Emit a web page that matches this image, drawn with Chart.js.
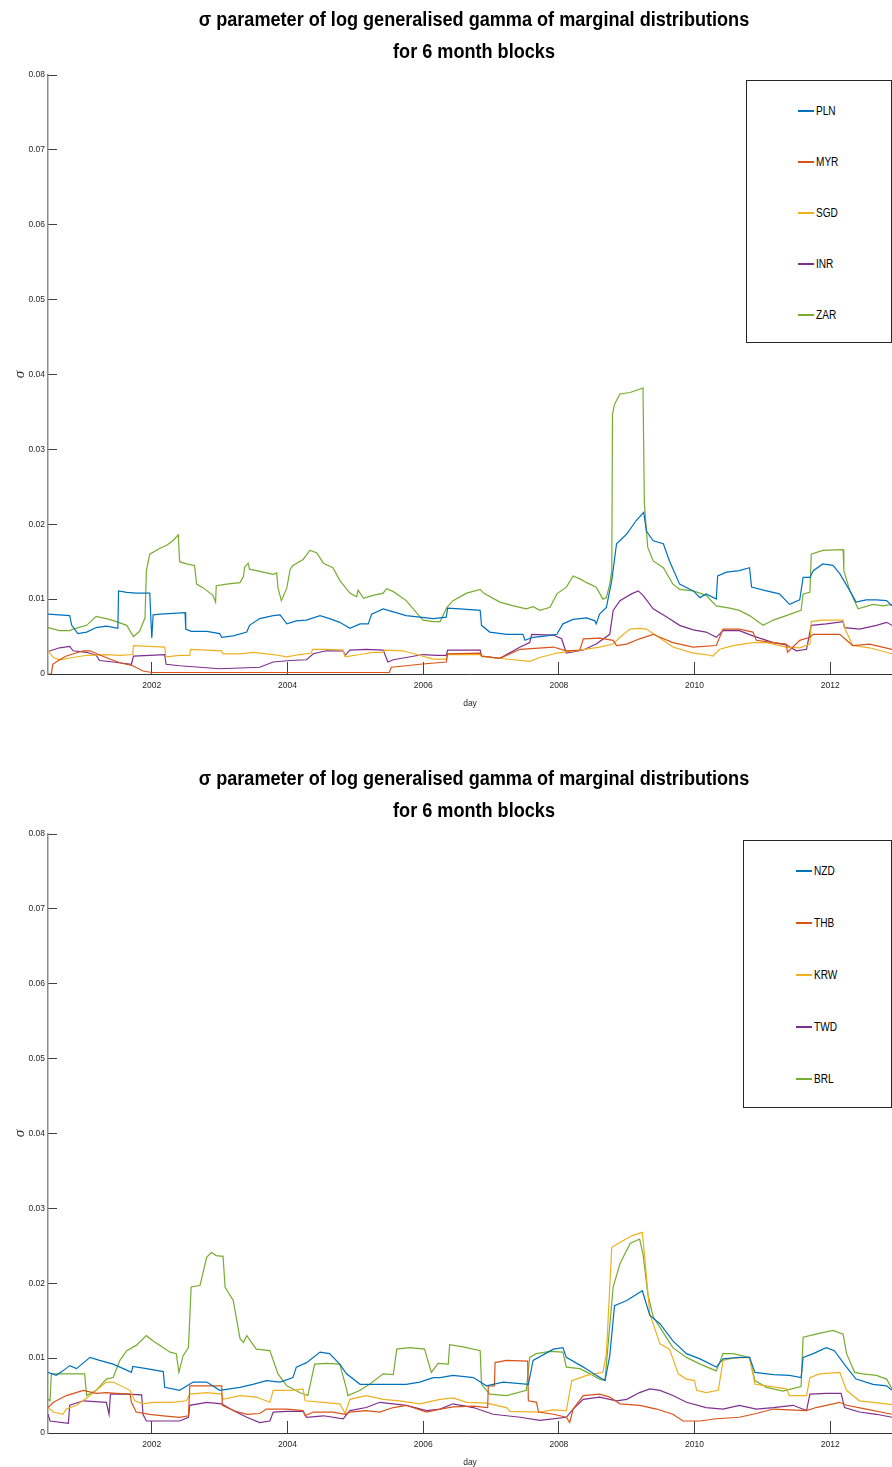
<!DOCTYPE html>
<html><head><meta charset="utf-8">
<script src="https://cdn.jsdelivr.net/npm/chart.js@4/dist/chart.umd.min.js"></script>
<style>
html,body{margin:0;padding:0;background:#fff;width:892px;height:1467px;overflow:hidden;}
.wrap{position:absolute;left:0;width:892px;height:720px;}
canvas{position:absolute;left:0;top:0;}
.legend{position:absolute;border:1px solid #262626;background:#fff;box-sizing:border-box;font:12px "Liberation Sans",Arial,sans-serif;color:#000;}
.legend .it{position:absolute;height:14px;line-height:14px;white-space:nowrap;}
.legend .ln{position:absolute;left:0;top:6px;width:16px;height:2px;}
.legend .tx{position:absolute;left:18px;top:0;display:inline-block;transform:scaleX(0.84);transform-origin:0 50%;}
</style></head>
<body>
<div class="wrap" id="w1" style="top:0"><canvas id="c1" width="892" height="720"></canvas></div>
<div class="wrap" id="w2" style="top:759px"><canvas id="c2" width="892" height="720"></canvas></div>
<script>
// ---- data (x: decimal year, y: sigma) ----
const TITLE = ['σ parameter of log generalised gamma of marginal distributions','for 6 month blocks'];
const X_TICKS = [2002,2004,2006,2008,2010,2012];
const Y_TICKS = [0,0.01,0.02,0.03,0.04,0.05,0.06,0.07,0.08];
const X_MIN = 2000.47, X_MAX = 2012.91;
const COLORS = ['#0072BD','#D95319','#EDB120','#7E2F8E','#77AC30'];
const LABELS1 = ['PLN','MYR','SGD','INR','ZAR'];
const LABELS2 = ['NZD','THB','KRW','TWD','BRL'];

const PLN = [[2000.47,.0080],[2000.79,.0078],[2000.82,.0065],[2000.91,.0054],[2001.04,.0056],[2001.18,.0062],[2001.33,.0064],[2001.50,.0061],[2001.51,.0111],[2001.63,.0109],[2001.77,.0108],[2001.97,.0108],[2001.985,.0076],[2002.00,.0048],[2002.02,.0079],[2002.12,.0080],[2002.31,.0081],[2002.49,.0082],[2002.50,.0060],[2002.58,.0057],[2002.81,.0057],[2003.00,.0054],[2003.03,.0049],[2003.20,.0051],[2003.40,.0056],[2003.44,.0065],[2003.59,.0074],[2003.79,.0078],[2003.89,.0079],[2003.99,.0067],[2004.13,.0071],[2004.28,.0072],[2004.48,.0078],[2004.62,.0074],[2004.77,.0069],[2004.92,.0061],[2005.07,.0067],[2005.19,.0067],[2005.24,.0080],[2005.41,.0087],[2005.56,.0083],[2005.75,.0078],[2005.95,.0076],[2006.15,.0074],[2006.34,.0076],[2006.36,.0088],[2006.54,.0087],[2006.84,.0085],[2006.86,.0065],[2006.98,.0056],[2007.23,.0053],[2007.47,.0053],[2007.50,.0045],[2007.62,.0049],[2007.82,.0051],[2007.97,.0053],[2008.06,.0067],[2008.21,.0073],[2008.41,.0075],[2008.53,.0071],[2008.55,.0067],[2008.60,.0080],[2008.70,.0089],[2008.78,.0125],[2008.85,.0174],[2009.00,.0187],[2009.14,.0205],[2009.25,.0216],[2009.29,.0191],[2009.39,.0178],[2009.54,.0174],[2009.63,.0151],[2009.78,.0120],[2009.98,.0111],[2010.08,.0102],[2010.17,.0107],[2010.32,.0100],[2010.34,.0131],[2010.47,.0136],[2010.66,.0138],[2010.81,.0142],[2010.84,.0116],[2011.06,.0111],[2011.25,.0107],[2011.40,.0093],[2011.55,.0099],[2011.60,.0129],[2011.70,.0129],[2011.75,.0138],[2011.89,.0147],[2012.04,.0145],[2012.14,.0134],[2012.29,.0111],[2012.38,.0096],[2012.53,.0099],[2012.68,.0099],[2012.83,.0098],[2012.91,.0091]];
const MYR = [[2000.47,0],[2000.52,0],[2000.54,.0013],[2000.64,.0019],[2000.74,.0024],[2000.99,.0031],[2001.09,.0031],[2001.19,.0027],[2001.38,.0020],[2001.53,.0015],[2001.72,.0011],[2001.87,.0004],[2002.00,.0002],[2005.50,.0002],[2005.53,.0009],[2005.75,.0011],[2005.95,.0013],[2006.34,.0016],[2006.36,.0027],[2006.84,.0028],[2006.86,.0024],[2007.13,.0021],[2007.43,.0033],[2007.92,.0036],[2008.11,.0031],[2008.31,.0032],[2008.36,.0047],[2008.60,.0048],[2008.80,.0045],[2008.85,.0038],[2009.00,.0040],[2009.19,.0047],[2009.39,.0053],[2009.49,.0049],[2009.68,.0042],[2009.98,.0036],[2010.32,.0038],[2010.42,.0060],[2010.66,.0060],[2010.86,.0056],[2010.91,.0045],[2011.16,.0042],[2011.35,.0040],[2011.37,.0029],[2011.55,.0045],[2011.70,.0049],[2011.75,.0053],[2012.14,.0053],[2012.33,.0038],[2012.58,.0040],[2012.91,.0033]];
const SGD = [[2000.47,.0031],[2000.55,.0022],[2000.64,.0019],[2000.84,.0022],[2001.04,.0025],[2001.33,.0026],[2001.53,.0025],[2001.72,.0026],[2001.73,.0038],[2001.97,.0037],[2002.19,.0036],[2002.21,.0023],[2002.41,.0025],[2002.56,.0025],[2002.57,.0033],[2002.81,.0032],[2003.03,.0031],[2003.05,.0027],[2003.30,.0027],[2003.49,.0029],[2003.79,.0026],[2003.99,.0023],[2004.18,.0026],[2004.35,.0028],[2004.37,.0033],[2004.57,.0033],[2004.82,.0032],[2004.85,.0023],[2005.07,.0026],[2005.26,.0029],[2005.41,.0029],[2005.43,.0032],[2005.70,.0031],[2005.90,.0026],[2006.15,.0020],[2006.34,.0020],[2006.36,.0026],[2006.84,.0026],[2006.86,.0023],[2007.23,.0020],[2007.57,.0017],[2007.72,.0022],[2007.97,.0028],[2008.31,.0032],[2008.60,.0036],[2008.80,.0040],[2008.90,.0049],[2009.05,.0060],[2009.19,.0061],[2009.29,.0060],[2009.44,.0051],[2009.68,.0036],[2009.98,.0028],[2010.17,.0026],[2010.27,.0024],[2010.37,.0033],[2010.57,.0038],[2010.86,.0042],[2011.06,.0042],[2011.35,.0036],[2011.55,.0035],[2011.70,.0040],[2011.72,.0070],[2011.89,.0072],[2012.19,.0072],[2012.21,.0062],[2012.33,.0038],[2012.58,.0035],[2012.91,.0027]];
const INR = [[2000.47,.0030],[2000.64,.0035],[2000.79,.0037],[2000.84,.0031],[2001.04,.0029],[2001.18,.0025],[2001.23,.0018],[2001.43,.0016],[2001.70,.0013],[2001.73,.0024],[2001.97,.0025],[2002.19,.0026],[2002.21,.0013],[2002.41,.0011],[2002.71,.0009],[2003.00,.0007],[2003.30,.0008],[2003.59,.0009],[2003.79,.0016],[2004.04,.0018],[2004.28,.0019],[2004.38,.0027],[2004.57,.0031],[2004.82,.0031],[2004.85,.0025],[2004.92,.0032],[2005.16,.0033],[2005.41,.0032],[2005.48,.0016],[2005.56,.0019],[2005.75,.0022],[2006.00,.0026],[2006.20,.0025],[2006.34,.0025],[2006.36,.0032],[2006.84,.0032],[2006.86,.0024],[2007.13,.0021],[2007.43,.0036],[2007.57,.0042],[2007.60,.0053],[2007.92,.0052],[2008.04,.0047],[2008.11,.0028],[2008.36,.0032],[2008.55,.0040],[2008.75,.0053],[2008.80,.0085],[2008.90,.0098],[2009.07,.0107],[2009.17,.0111],[2009.24,.0105],[2009.39,.0087],[2009.59,.0076],[2009.78,.0065],[2009.98,.0059],[2010.17,.0056],[2010.32,.0049],[2010.42,.0058],[2010.66,.0058],[2010.86,.0051],[2011.16,.0042],[2011.35,.0039],[2011.50,.0031],[2011.65,.0033],[2011.72,.0065],[2011.94,.0067],[2012.19,.0070],[2012.21,.0062],[2012.43,.0060],[2012.68,.0065],[2012.83,.0069],[2012.91,.0065]];
const ZAR = [[2000.47,.0062],[2000.64,.0058],[2000.79,.0058],[2000.84,.0060],[2001.04,.0065],[2001.18,.0077],[2001.33,.0074],[2001.48,.0070],[2001.63,.0065],[2001.73,.0050],[2001.82,.0057],[2001.90,.0075],[2001.92,.0138],[2001.97,.0160],[2002.12,.0168],[2002.22,.0172],[2002.31,.0178],[2002.39,.0186],[2002.41,.0150],[2002.51,.0147],[2002.63,.0145],[2002.66,.0120],[2002.76,.0115],[2002.90,.0105],[2002.94,.0096],[2002.95,.0118],[2003.10,.0120],[2003.30,.0122],[2003.35,.0130],[2003.37,.0143],[2003.42,.0148],[2003.44,.0140],[2003.59,.0137],[2003.79,.0133],[2003.84,.0135],[2003.86,.0115],[2003.91,.0098],[2003.99,.0115],[2004.04,.0140],[2004.08,.0145],[2004.23,.0153],[2004.33,.0165],[2004.43,.0162],[2004.53,.0148],[2004.67,.0142],[2004.77,.0125],[2004.92,.0108],[2005.02,.0103],[2005.04,.0112],[2005.12,.0101],[2005.26,.0105],[2005.41,.0108],[2005.46,.0114],[2005.56,.0110],[2005.75,.0098],[2005.90,.0082],[2006.00,.0072],[2006.15,.0070],[2006.25,.0070],[2006.35,.0089],[2006.44,.0098],[2006.64,.0108],[2006.84,.0113],[2006.89,.0108],[2007.13,.0096],[2007.33,.0091],[2007.52,.0087],[2007.62,.0090],[2007.72,.0085],[2007.87,.0089],[2007.97,.0107],[2008.11,.0116],[2008.21,.0131],[2008.31,.0127],[2008.41,.0122],[2008.55,.0116],[2008.65,.0100],[2008.70,.0102],[2008.75,.0120],[2008.78,.0138],[2008.79,.0347],[2008.82,.0360],[2008.90,.0374],[2009.05,.0376],[2009.24,.0382],[2009.26,.0227],[2009.31,.0169],[2009.39,.0151],[2009.54,.0142],[2009.68,.0120],[2009.78,.0113],[2009.98,.0111],[2010.17,.0105],[2010.32,.0091],[2010.52,.0088],[2010.66,.0085],[2010.81,.0078],[2011.01,.0065],[2011.16,.0072],[2011.35,.0078],[2011.57,.0085],[2011.60,.0107],[2011.70,.0109],[2011.72,.0160],[2011.89,.0165],[2012.19,.0166],[2012.20,.0138],[2012.29,.0111],[2012.41,.0087],[2012.63,.0093],[2012.78,.0091],[2012.91,.0093]];

const NZD = [[2000.47,.0081],[2000.59,.0077],[2000.69,.0083],[2000.79,.0090],[2000.89,.0086],[2001.09,.0101],[2001.23,.0097],[2001.43,.0092],[2001.58,.0086],[2001.70,.0081],[2001.72,.0089],[2001.92,.0086],[2002.17,.0082],[2002.19,.0061],[2002.41,.0057],[2002.61,.0068],[2002.81,.0068],[2003.00,.0057],[2003.30,.0061],[2003.49,.0065],[2003.69,.0070],[2003.89,.0068],[2004.08,.0074],[2004.13,.0088],[2004.28,.0094],[2004.48,.0108],[2004.62,.0106],[2004.77,.0092],[2004.87,.0079],[2005.07,.0065],[2005.26,.0065],[2005.46,.0065],[2005.75,.0065],[2005.95,.0068],[2006.15,.0074],[2006.25,.0074],[2006.44,.0077],[2006.74,.0074],[2006.93,.0063],[2007.18,.0068],[2007.55,.0065],[2007.62,.0097],[2007.92,.0112],[2008.06,.0114],[2008.11,.0101],[2008.36,.0088],[2008.55,.0077],[2008.68,.0070],[2008.75,.0103],[2008.82,.0170],[2009.00,.0177],[2009.23,.0190],[2009.34,.0157],[2009.49,.0146],[2009.68,.0123],[2009.88,.0106],[2010.08,.0099],[2010.32,.0088],[2010.42,.0099],[2010.66,.0101],[2010.81,.0101],[2010.89,.0081],[2011.16,.0078],[2011.40,.0077],[2011.57,.0074],[2011.60,.0101],[2011.75,.0106],[2011.94,.0114],[2012.06,.0110],[2012.24,.0088],[2012.38,.0072],[2012.63,.0065],[2012.83,.0063],[2012.91,.0057]];
const THB = [[2000.47,.0034],[2000.55,.0041],[2000.74,.0050],[2000.99,.0057],[2001.18,.0053],[2001.33,.0054],[2001.48,.0053],[2001.68,.0052],[2001.70,.0041],[2001.77,.0028],[2001.97,.0025],[2002.17,.0023],[2002.41,.0021],[2002.54,.0023],[2002.56,.0063],[2002.81,.0063],[2003.03,.0063],[2003.04,.0037],[2003.20,.0030],[2003.40,.0025],[2003.59,.0026],[2003.69,.0032],[2003.99,.0032],[2004.23,.0030],[2004.26,.0023],[2004.38,.0028],[2004.67,.0028],[2004.85,.0025],[2004.92,.0028],[2005.16,.0030],[2005.36,.0028],[2005.56,.0034],[2005.75,.0037],[2006.05,.0028],[2006.25,.0032],[2006.44,.0035],[2006.74,.0036],[2006.95,.0034],[2006.96,.0063],[2007.05,.0063],[2007.06,.0094],[2007.23,.0097],[2007.54,.0096],[2007.55,.0043],[2007.67,.0041],[2007.70,.0028],[2007.92,.0025],[2008.11,.0021],[2008.16,.0014],[2008.21,.0032],[2008.36,.0050],[2008.60,.0052],[2008.75,.0048],[2008.90,.0039],[2009.19,.0037],[2009.44,.0032],[2009.68,.0025],[2009.83,.0016],[2010.08,.0016],[2010.32,.0019],[2010.66,.0021],[2010.91,.0026],[2011.16,.0032],[2011.40,.0031],[2011.65,.0030],[2011.79,.0034],[2012.14,.0041],[2012.24,.0037],[2012.53,.0032],[2012.91,.0025]];
const KRW = [[2000.47,.0034],[2000.55,.0028],[2000.69,.0025],[2000.74,.0032],[2000.89,.0037],[2001.09,.0050],[2001.33,.0068],[2001.43,.0068],[2001.68,.0057],[2001.75,.0043],[2001.87,.0039],[2002.02,.0041],[2002.31,.0041],[2002.51,.0043],[2002.56,.0052],[2002.81,.0054],[2003.03,.0052],[2003.05,.0045],[2003.30,.0050],[2003.54,.0048],[2003.74,.0041],[2003.79,.0057],[2004.08,.0057],[2004.23,.0059],[2004.26,.0043],[2004.53,.0041],[2004.77,.0039],[2004.85,.0026],[2004.92,.0045],[2005.16,.0050],[2005.41,.0045],[2005.65,.0043],[2005.95,.0039],[2006.05,.0041],[2006.25,.0045],[2006.44,.0047],[2006.64,.0041],[2006.93,.0040],[2007.23,.0034],[2007.28,.0029],[2007.72,.0028],[2007.92,.0031],[2008.11,.0030],[2008.19,.0070],[2008.41,.0077],[2008.65,.0081],[2008.70,.0106],[2008.78,.0248],[2008.95,.0257],[2009.09,.0264],[2009.23,.0268],[2009.27,.0230],[2009.34,.0159],[2009.49,.0119],[2009.63,.0112],[2009.76,.0079],[2009.88,.0072],[2010.00,.0070],[2010.03,.0057],[2010.17,.0054],[2010.35,.0057],[2010.42,.0097],[2010.57,.0100],[2010.81,.0101],[2010.89,.0065],[2011.06,.0063],[2011.35,.0059],[2011.40,.0050],[2011.65,.0050],[2011.70,.0074],[2011.84,.0079],[2012.14,.0081],[2012.24,.0057],[2012.43,.0043],[2012.63,.0041],[2012.91,.0038]];
const TWD = [[2000.47,.0025],[2000.50,.0016],[2000.77,.0013],[2000.79,.0037],[2000.99,.0043],[2001.33,.0041],[2001.37,.0025],[2001.39,.0052],[2001.63,.0052],[2001.85,.0051],[2001.87,.0025],[2001.92,.0016],[2002.17,.0016],[2002.41,.0016],[2002.54,.0021],[2002.56,.0037],[2002.81,.0041],[2003.03,.0039],[2003.20,.0030],[2003.40,.0021],[2003.59,.0014],[2003.74,.0016],[2003.79,.0028],[2003.99,.0029],[2004.23,.0029],[2004.28,.0021],[2004.53,.0023],[2004.82,.0019],[2004.92,.0030],[2005.16,.0034],[2005.36,.0041],[2005.56,.0039],[2005.75,.0037],[2006.05,.0030],[2006.25,.0032],[2006.44,.0039],[2006.74,.0034],[2007.03,.0025],[2007.43,.0021],[2007.72,.0017],[2008.11,.0021],[2008.21,.0032],[2008.36,.0045],[2008.60,.0048],[2008.85,.0043],[2009.00,.0045],[2009.19,.0054],[2009.34,.0059],[2009.49,.0057],[2009.68,.0050],[2009.88,.0041],[2010.17,.0034],[2010.42,.0032],[2010.66,.0037],[2010.91,.0032],[2011.16,.0034],[2011.45,.0037],[2011.65,.0030],[2011.70,.0052],[2011.94,.0053],[2012.16,.0053],[2012.21,.0034],[2012.43,.0028],[2012.68,.0025],[2012.91,.0021]];
const BRL = [[2000.47,.0045],[2000.50,.0043],[2000.52,.0079],[2000.74,.0079],[2001.01,.0079],[2001.04,.0050],[2001.18,.0057],[2001.33,.0072],[2001.43,.0074],[2001.53,.0097],[2001.63,.0110],[2001.77,.0117],[2001.92,.0130],[2002.02,.0123],[2002.17,.0114],[2002.27,.0108],[2002.36,.0106],[2002.40,.0081],[2002.46,.0103],[2002.54,.0114],[2002.58,.0195],[2002.71,.0197],[2002.81,.0235],[2002.88,.0241],[2002.95,.0237],[2003.05,.0236],[2003.08,.0195],[2003.20,.0177],[2003.30,.0126],[2003.35,.0121],[2003.40,.0130],[2003.54,.0112],[2003.74,.0110],[2003.86,.0079],[2003.99,.0063],[2004.18,.0054],[2004.30,.0050],[2004.40,.0092],[2004.57,.0093],[2004.77,.0092],[2004.87,.0059],[2004.89,.0050],[2005.07,.0057],[2005.21,.0065],[2005.41,.0079],[2005.56,.0078],[2005.61,.0112],[2005.80,.0114],[2006.02,.0112],[2006.12,.0081],[2006.22,.0093],[2006.37,.0092],[2006.39,.0118],[2006.59,.0115],[2006.84,.0110],[2006.86,.0065],[2006.98,.0052],[2007.23,.0050],[2007.52,.0057],[2007.57,.0101],[2007.67,.0106],[2007.87,.0109],[2008.06,.0108],[2008.11,.0088],[2008.31,.0086],[2008.46,.0079],[2008.60,.0072],[2008.68,.0070],[2008.73,.0123],[2008.80,.0195],[2008.90,.0226],[2009.05,.0253],[2009.19,.0259],[2009.24,.0239],[2009.31,.0186],[2009.39,.0155],[2009.49,.0141],[2009.68,.0114],[2009.88,.0101],[2010.08,.0092],[2010.32,.0083],[2010.42,.0106],[2010.57,.0106],[2010.81,.0101],[2010.89,.0070],[2011.06,.0061],[2011.30,.0056],[2011.57,.0062],[2011.60,.0128],[2011.79,.0132],[2012.04,.0137],[2012.19,.0132],[2012.24,.0106],[2012.36,.0081],[2012.48,.0079],[2012.68,.0077],[2012.83,.0072],[2012.91,.0059]];

const SERIES1 = [PLN, MYR, SGD, INR, ZAR];
const SERIES2 = [NZD, THB, KRW, TWD, BRL];

const SANS = '"Liberation Sans Narrow","Arial Narrow","Liberation Sans",Arial,sans-serif';

// condense the title horizontally (the reference uses a narrow bold face)
const narrowTitle = {
  id: 'narrowTitle',
  afterLayout(chart) {
    const t = chart.titleBlock;
    if (!t || t._narrow) return;
    const orig = t.draw;
    t.draw = function (area) {
      const ctx = this.ctx;
      const cx = (this.left + this.right) / 2;
      ctx.save();
      ctx.translate(cx + 4, 0);
      ctx.scale(0.905, 1);
      ctx.translate(-cx, 0);
      orig.call(this, area);
      ctx.restore();
    };
    t._narrow = true;
  }
};

function makeChart(canvasId, labels, series) {
  const datasets = series.map((s, i) => ({
    label: labels[i],
    data: s.map(p => ({x: p[0], y: p[1]})),
    borderColor: COLORS[i],
    backgroundColor: COLORS[i],
    borderWidth: 1.2,
    pointRadius: 0,
    tension: 0,
    fill: false
  }));
  return new Chart(document.getElementById(canvasId), {
    type: 'line',
    data: { datasets },
    plugins: [narrowTitle],
    options: {
      responsive: false, animation: false, devicePixelRatio: 1,
      layout: { padding: 0 },
      plugins: {
        legend: { display: false },
        tooltip: { enabled: false },
        title: {
          display: true, text: TITLE, fullSize: false, color: '#000',
          font: { family: SANS, size: 20, weight: 'bold', lineHeight: 1.6 },
          padding: { top: 4, bottom: 7 }
        }
      },
      scales: {
        x: {
          type: 'linear', min: X_MIN, max: X_MAX,
          afterFit: s => { s.height = 46; },
          afterBuildTicks: s => { s.ticks = X_TICKS.map(v => ({value: v})); },
          ticks: { callback: v => String(v), color: '#262626', font: { family: SANS, size: 8.5 }, padding: 19, maxRotation: 0, autoSkip: false },
          grid: { drawOnChartArea: false, drawTicks: true, tickLength: -12, color: '#404040' },
          border: { display: true, color: '#333', width: 1 },
          title: { display: true, text: 'day', color: '#262626', font: { family: SANS, size: 8.5 }, padding: { top: 0, bottom: 11 } }
        },
        y: {
          type: 'linear', min: 0, max: 0.08,
          afterFit: s => { s.width = 48; },
          afterBuildTicks: s => { s.ticks = Y_TICKS.map(v => ({value: v})); },
          ticks: { callback: v => v === 0 ? '0' : v.toFixed(2), color: '#262626', font: { family: SANS, size: 8.5 }, padding: 12, autoSkip: false },
          grid: { drawOnChartArea: false, drawTicks: true, tickLength: -9, color: '#404040' },
          border: { display: true, color: '#8c8c8c', width: 1.5 },
          title: { display: true, text: 'σ', color: '#262626', font: { family: '"Liberation Serif","DejaVu Serif",serif', size: 15, style: 'italic' }, padding: { top: 11, bottom: 0 } }
        }
      }
    }
  });
}

function makeLegend(wrapId, chart, box) {
  const lg = document.createElement('div');
  lg.className = 'legend';
  Object.assign(lg.style, { left: box.left + 'px', top: box.top + 'px', width: box.width + 'px', height: box.height + 'px' });
  chart.data.datasets.forEach((ds, i) => {
    const it = document.createElement('div');
    it.className = 'it';
    it.style.left = box.itemLeft + 'px';
    it.style.top = (box.firstY + i * box.step - 7) + 'px';
    const ln = document.createElement('span');
    ln.className = 'ln';
    ln.style.backgroundColor = ds.borderColor;
    const tx = document.createElement('span');
    tx.className = 'tx';
    tx.textContent = ds.label;
    it.appendChild(ln);
    it.appendChild(tx);
    lg.appendChild(it);
  });
  document.getElementById(wrapId).appendChild(lg);
}

const ch1 = makeChart('c1', LABELS1, SERIES1);
const ch2 = makeChart('c2', LABELS2, SERIES2);
makeLegend('w1', ch1, { left: 746, top: 80, width: 146, height: 263, itemLeft: 51, firstY: 30, step: 51 });
makeLegend('w2', ch2, { left: 743, top: 81, width: 149, height: 268, itemLeft: 52, firstY: 30, step: 52 });
</script>
</body></html>
